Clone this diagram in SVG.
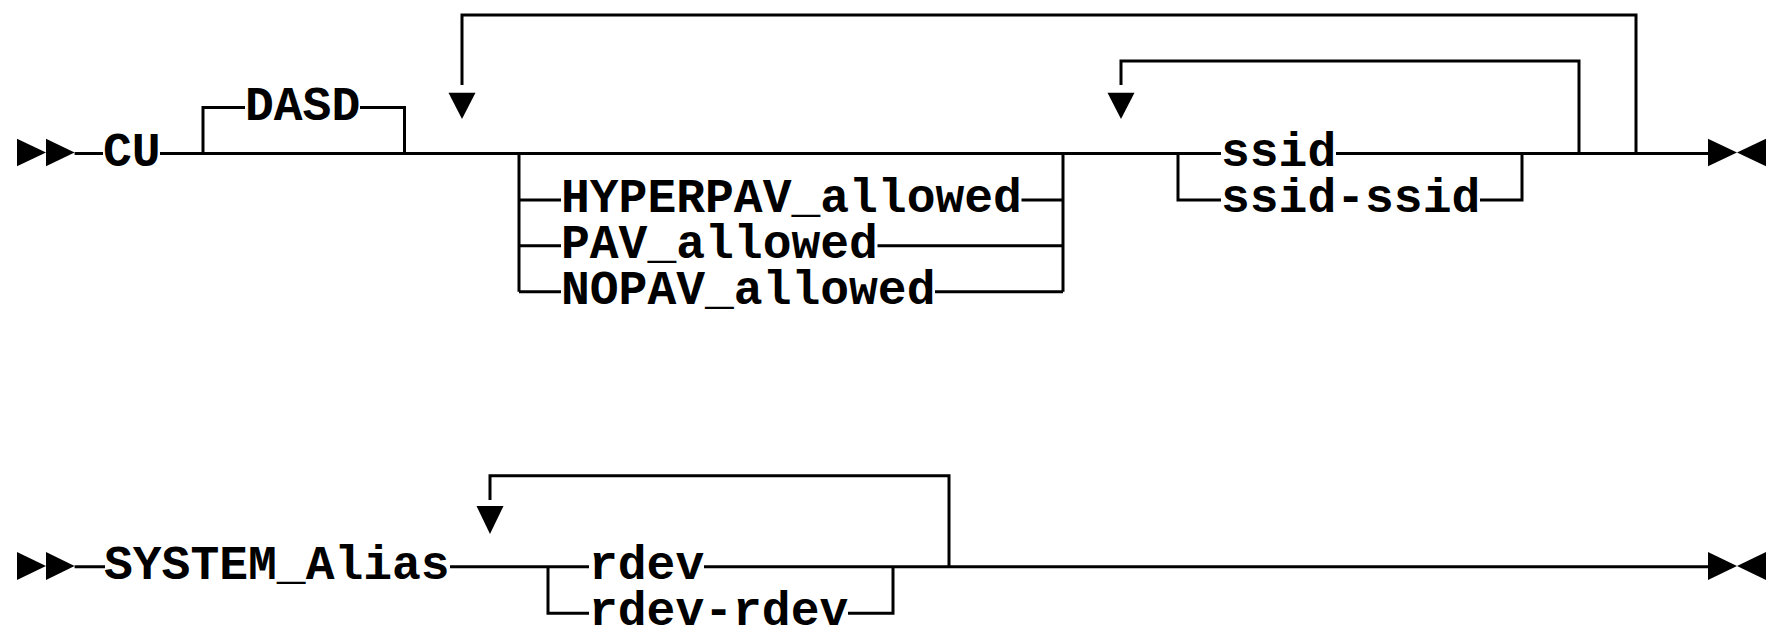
<svg xmlns="http://www.w3.org/2000/svg" width="1775" height="638" viewBox="0 0 1775 638">
<style>
.ln{fill:none;stroke:#000;stroke-width:3;stroke-linejoin:miter}
.ar{fill:#000;stroke:none}
.t{font-family:"Liberation Mono","Courier New",monospace;font-weight:bold;font-size:48px;fill:#000}
</style>
<rect width="1775" height="638" fill="#fff"/>
<g id="connectors">
<path class="ln" d="M74.6 153.5H103M160 153.5H1221M1336 153.5H1708"/>
<path class="ln" d="M203 153.5V107.5H245M360 107.5H404.5V153.5"/>
<path class="ln" d="M519 153.5V291.7M519 200H561M519 245.7H561M519 291.7H561M1021.5 200H1063M877.5 245.7H1063M935 291.7H1063M1063 153.5V291.7"/>
<path class="ln" d="M1178 153.5V200H1221M1480 200H1522V153.5"/>
<path class="ln" d="M1636 153.5V15H462V85"/>
<polygon class="ar" points="448.5,92.7 475.5,92.7 462,119"/>
<path class="ln" d="M1579 153.5V61H1121V85"/>
<polygon class="ar" points="1107.5,92.7 1134.5,92.7 1121,119"/>
<path class="ln" d="M74.6 566.7H105M450 566.7H589M704 566.7H1708"/>
<path class="ln" d="M548 566.7V613.3H589M848 613.3H893V566.7"/>
<path class="ln" d="M949 566.7V475.7H490V500"/>
<polygon class="ar" points="476.5,506 503.5,506 490,534"/>
</g>
<g id="start1"><polygon class="ar" points="17,138.8 17,166.2 46,152.5"/><polygon class="ar" points="46,138.8 46,166.2 74.6,152.5"/></g>
<g id="n-CU"><text class="t" x="103" y="165.5">CU</text></g>
<g id="n-DASD"><text class="t" x="245" y="119.5">DASD</text></g>
<g id="n-HYPERPAV"><text class="t" x="561" y="212">HYPERPAV_allowed</text></g>
<g id="n-PAV"><text class="t" x="561" y="257.7">PAV_allowed</text></g>
<g id="n-NOPAV"><text class="t" x="561" y="303.7">NOPAV_allowed</text></g>
<g id="n-ssid"><text class="t" x="1221" y="165.5">ssid</text></g>
<g id="n-ssid-ssid"><text class="t" x="1221" y="212">ssid-ssid</text></g>
<g id="end1"><polygon class="ar" points="1708,138.8 1708,166.2 1737,152.5"/><polygon class="ar" points="1766,138.8 1766,166.2 1737,152.5"/></g>
<g id="start2"><polygon class="ar" points="17,552 17,580 46,566"/><polygon class="ar" points="46,552 46,580 74.6,566"/></g>
<g id="n-SYSTEM_Alias"><text class="t" x="104" y="578.7">SYSTEM_Alias</text></g>
<g id="n-rdev"><text class="t" x="589" y="578.7">rdev</text></g>
<g id="n-rdev-rdev"><text class="t" x="589" y="625.3">rdev-rdev</text></g>
<g id="end2"><polygon class="ar" points="1708,552 1708,580 1737,566"/><polygon class="ar" points="1766,552 1766,580 1737,566"/></g>
</svg>
